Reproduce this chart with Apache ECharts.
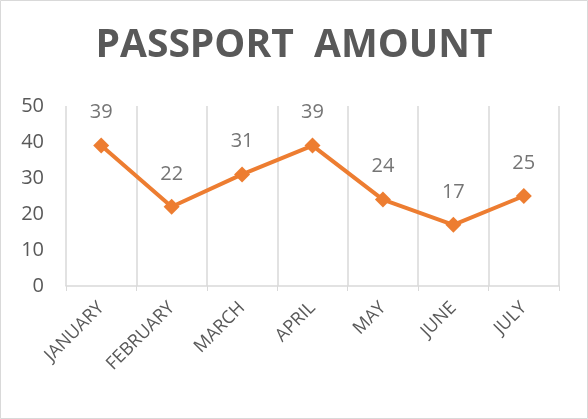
<!DOCTYPE html>
<html><head><meta charset="utf-8">
<script src="https://cdn.jsdelivr.net/npm/echarts@6/dist/echarts.min.js"></script>
<style>html,body{margin:0;padding:0;background:#fff}#c{width:588px;height:419px}</style>
</head><body><div id="c"></div>
<script>
const categories = ['JANUARY','FEBRUARY','MARCH','APRIL','MAY','JUNE','JULY'];
const amounts = [39, 22, 31, 39, 24, 17, 25];
const yTicks = {min: 0, max: 50, interval: 10};
const titleText = 'PASSPORT  AMOUNT';

const chart = echarts.init(document.getElementById('c'), null, {renderer: 'canvas'});
chart.setOption({
  animation: false,
  backgroundColor: '#fff',
  graphic: [{type: 'rect', shape: {x: 0.5, y: 0.5, width: 587, height: 418}, style: {fill: 'none', stroke: '#d9d9d9', lineWidth: 1}, silent: true}],
  title: {text: titleText, left: 'center', top: 21,
    textStyle: {fontFamily: 'Open Sans', fontWeight: 'bold', fontSize: 39, color: '#595959'}},
  grid: {left: 66, right: 29, top: 106, bottom: 133, containLabel: false},
  xAxis: {type: 'category', data: categories, boundaryGap: true,
    axisLine: {show: true, lineStyle: {color: '#d9d9d9', width: 1.5}},
    axisTick: {show: true, length: 5, lineStyle: {color: '#d9d9d9'}},
    splitLine: {show: true, interval: 0, lineStyle: {color: '#d9d9d9', width: 1.5}},
    axisLabel: {rotate: 45, interval: 0, margin: 19, color: '#595959', fontSize: 18, fontFamily: 'Open Sans'}},
  yAxis: {type: 'value', min: yTicks.min, max: yTicks.max, interval: yTicks.interval,
    axisLine: {show: false}, axisTick: {show: false}, splitLine: {show: false},
    axisLabel: {color: '#595959', fontSize: 20, fontFamily: 'Open Sans', margin: 22}},
  series: [{type: 'line', data: amounts, symbol: 'diamond', symbolSize: 16,
    lineStyle: {color: '#ED7D31', width: 4}, itemStyle: {color: '#ED7D31'},
    label: {show: true, position: 'top', distance: 15, color: '#757575', fontSize: 20, fontFamily: 'Open Sans'}}]
});
</script></body></html>
